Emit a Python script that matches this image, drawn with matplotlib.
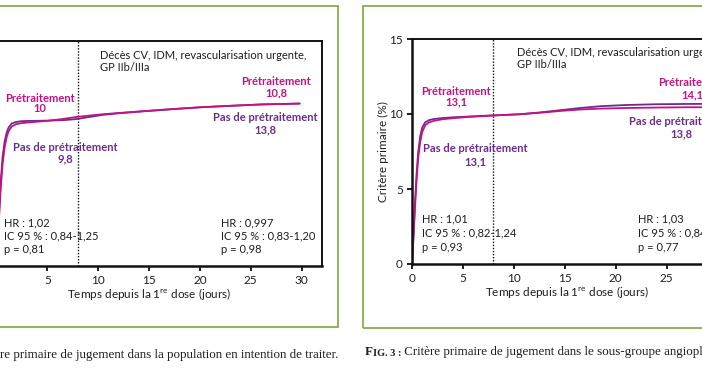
"""Critère primaire de jugement — courbes cumulées prétraitement vs pas de prétraitement."""
import matplotlib
matplotlib.use("Agg")
import matplotlib.pyplot as plt
from matplotlib.patches import Rectangle
from matplotlib.text import Annotation

plt.rcParams["font.family"] = ["Lato", "DejaVu Sans"]
plt.rcParams["mathtext.fontset"] = "custom"
plt.rcParams["mathtext.rm"] = "Lato"

PINK = "#C4137F"
PURPLE = "#6A2D8F"
GREEN = "#83B04A"
INK = "#1E1E1E"

# ---------------------------------------------------------------------------
# Data
# ---------------------------------------------------------------------------
# population en intention de traiter
itt_days = [0, 0.2, 0.4, 0.6, 0.8, 1.0, 1.2, 1.5, 1.9, 2.4, 3.0, 4.0, 5.0, 6.5, 7.8,
            9.0, 10.5, 12.0, 14.0, 17.0, 20.0, 23.0, 26.0, 29.8]
itt_pre = [0, 2.6, 5.0, 6.8, 7.9, 8.6, 9.0, 9.3, 9.45, 9.52, 9.56, 9.62, 9.68, 9.80, 9.93,
           10.02, 10.12, 10.20, 10.30, 10.45, 10.58, 10.68, 10.77, 10.83]
itt_nopre = [0, 3.0, 5.5, 7.3, 8.3, 8.9, 9.25, 9.5, 9.6, 9.65, 9.67, 9.68, 9.69, 9.72, 9.79,
             9.92, 10.08, 10.18, 10.29, 10.44, 10.58, 10.68, 10.77, 10.83]

# sous-groupe angioplastie
ang_days = [0, 0.15, 0.3, 0.45, 0.6, 0.8, 1.0, 1.3, 1.7, 2.2, 3.0, 4.0, 5.5, 7.0, 8.5,
            10.5, 12.5, 14.5, 16.5, 18.5, 21.0, 24.0, 27.0, 32.0]
ang_pre = [0, 1.8, 3.8, 5.6, 7.0, 8.1, 8.8, 9.25, 9.45, 9.55, 9.65, 9.72, 9.8, 9.86, 9.92,
           9.98, 10.08, 10.2, 10.3, 10.36, 10.4, 10.43, 10.45, 10.45]
ang_nopre = [0, 2.1, 4.2, 6.0, 7.4, 8.5, 9.1, 9.45, 9.6, 9.67, 9.73, 9.78, 9.83, 9.88, 9.92,
             9.98, 10.1, 10.25, 10.4, 10.52, 10.6, 10.65, 10.67, 10.68]

Y_TICKS = [0, 5, 10, 15]
X_TICKS = [0, 5, 10, 15, 20, 25, 30]

PANELS = [
    dict(days=itt_days, pre=itt_pre, nopre=itt_nopre,
         pre_lab=("10", "10,8"), nopre_lab=("9,8", "13,8"),
         hr=(["HR : 1,02", "IC 95 % : 0,84-1,25", "p = 0,81"],
             ["HR : 0,997", "IC 95 % : 0,83-1,20", "p = 0,98"])),
    dict(days=ang_days, pre=ang_pre, nopre=ang_nopre,
         pre_lab=("13,1", "14,1"), nopre_lab=("13,1", "13,8"),
         hr=(["HR : 1,01", "IC 95 % : 0,82-1,24", "p = 0,93"],
             ["HR : 1,03", "IC 95 % : 0,84-1,26", "p = 0,77"])),
]


def style_axes(ax):
    ax.set_xlim(0, 32)
    ax.set_ylim(0, 15)
    ax.set_xticks(X_TICKS)
    ax.set_yticks(Y_TICKS)
    for side in ("left", "bottom"):
        ax.spines[side].set_linewidth(1.8)
    for side in ("top", "right"):
        ax.spines[side].set_linewidth(1.4)
    for sp in ax.spines.values():
        sp.set_color("#111111")
    ax.tick_params(direction="out", length=3.5, width=1.4, labelsize=8.5, pad=3,
                   colors=INK)
    ax.axvline(8, color="#111111", lw=1.0, ls=(0, (1, 1.2)))
    ax.set_ylabel("Critère primaire (%)", fontsize=8.5, color=INK, labelpad=0.5)


def draw_panel(ax, p, lab_pos):
    style_axes(ax)
    ax.plot(p["days"], p["nopre"], color=PURPLE, lw=1.3, solid_capstyle="round")
    ax.plot(p["days"], p["pre"], color=PINK, lw=1.3, solid_capstyle="round")

    kw = dict(ha="center", va="center", fontsize=8, fontweight="bold")
    for (x, y1, y2), val in zip(lab_pos["pre"], p["pre_lab"]):
        ax.text(x, y1, "Prétraitement", color=PINK, **kw)
        ax.text(x, y2 - 0.12, val, color=PINK, **kw)
    for (x, y1, y2), val in zip(lab_pos["nopre"], p["nopre_lab"]):
        ax.text(x, y1, "Pas de prétraitement", color=PURPLE, **kw)
        ax.text(x, y2 - 0.12, val, color=PURPLE, **kw)

    x0, ytop = lab_pos["title"]
    ax.text(x0, ytop, "Décès CV, IDM, revascularisation urgente,\nGP IIb/IIIa",
            ha="left", va="center", fontsize=8, color=INK, linespacing=1.2)

    for x, lines in zip(lab_pos["hr_x"], p["hr"]):
        for y, line in zip(lab_pos["hr_y"], lines):
            ax.text(x, y, line, ha="left", va="center", fontsize=8, color=INK)

    ax.text(lab_pos["xlab"], -0.125, "Temps depuis la 1$^{\\mathrm{re}}$ dose (jours)",
            transform=ax.transAxes, ha="center", va="center", fontsize=8.5, color=INK)


W, H = 702, 370
fig = plt.figure(figsize=(W / 100, H / 100), dpi=100)
fig.patch.set_facecolor("white")

# green frames
fig.add_artist(Rectangle((-20 / W, (H - 327) / H), 358 / W, 321 / H,
                         transform=fig.transFigure, fill=False, ec=GREEN, lw=1.3))
fig.add_artist(Rectangle((363 / W, (H - 328) / H), 360 / W, 322 / H,
                         transform=fig.transFigure, fill=False, ec=GREEN, lw=1.3))

ax1 = fig.add_axes([-3.5 / W, (H - 266) / H, 325.5 / W, 225 / H])
ax2 = fig.add_axes([412 / W, (H - 264) / H, 326 / W, 225 / H])

draw_panel(ax1, PANELS[0], dict(
    pre=[(4.29, 11.2, 10.6), (27.5, 12.33, 11.67)],
    nopre=[(6.76, 7.87, 7.27), (26.4, 9.87, 9.2)],
    title=(10.2, 13.63),
    hr_x=[0.74, 22.1], hr_y=[2.9, 2.0, 1.1],
    xlab=0.47))
draw_panel(ax2, PANELS[1], dict(
    pre=[(4.31, 11.53, 10.93), (27.55, 12.07, 11.4)],
    nopre=[(6.18, 7.73, 6.93), (26.4, 9.47, 8.8)],
    title=(10.3, 13.7),
    hr_x=[0.98, 22.2], hr_y=[3.0, 2.07, 1.13],
    xlab=0.475))

# captions
cap_kw = dict(fontsize=9.4, family=["Liberation Serif", "DejaVu Serif"], color=INK)
fig.text(338 / W, (H - 355) / H,
         "Fig. 2 : Critère primaire de jugement dans la population en intention de traiter.",
         ha="right", va="center", **cap_kw)
t1 = fig.text(365 / W, (H - 352) / H, "F", ha="left", va="center",
              fontweight="bold", **cap_kw)
t2 = Annotation("IG. 3 :", xy=(1, 0), xycoords=t1, va="bottom", ha="left",
                fontsize=7.4, fontweight="bold", family=cap_kw["family"], color=INK)
fig.add_artist(t2)
t3 = Annotation(" Critère primaire de jugement dans le sous-groupe angioplastie.",
                xy=(1, 0), xycoords=t2, va="bottom", ha="left", **cap_kw)
fig.add_artist(t3)

fig.savefig("out.png", dpi=100)
